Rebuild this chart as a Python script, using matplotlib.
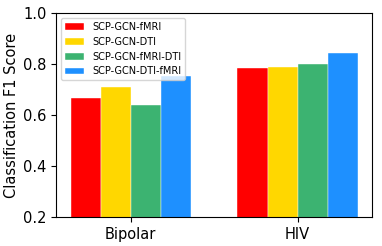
import numpy as np
import matplotlib
matplotlib.use("Agg")
import matplotlib.pyplot as plt

datasets = ["Bipolar", "HIV"]
methods = ["SCP-GCN-fMRI", "SCP-GCN-DTI", "SCP-GCN-fMRI-DTI", "SCP-GCN-DTI-fMRI"]
f1_fmri = [0.667, 0.785]
f1_dti = [0.711, 0.789]
f1_fmri_dti = [0.640, 0.799]
f1_dti_fmri = [0.752, 0.843]

colors = ["red", "gold", "mediumseagreen", "dodgerblue"]

fig, ax = plt.subplots(figsize=(3.82, 2.46), dpi=100)
x = np.arange(len(datasets))
width = 0.18
series = [f1_fmri, f1_dti, f1_fmri_dti, f1_dti_fmri]
for i, (vals, name) in enumerate(zip(series, methods)):
    ax.bar(x + (i - 1.5) * width, vals, width, label=name, color=colors[i],
           edgecolor="white", linewidth=0.3)

ax.set_ylim(0.2, 1.0)
ax.set_xticks(x)
ax.set_xticklabels(datasets, fontsize=10.5)
ax.tick_params(axis="y", labelsize=10.5)
ax.set_ylabel("Classification F1 Score", fontsize=10.5, labelpad=3)
ax.legend(loc="upper left", fontsize=7, handlelength=2.0)

fig.subplots_adjust(left=0.147, right=0.974, top=0.947, bottom=0.118)
plt.savefig("out.png")
